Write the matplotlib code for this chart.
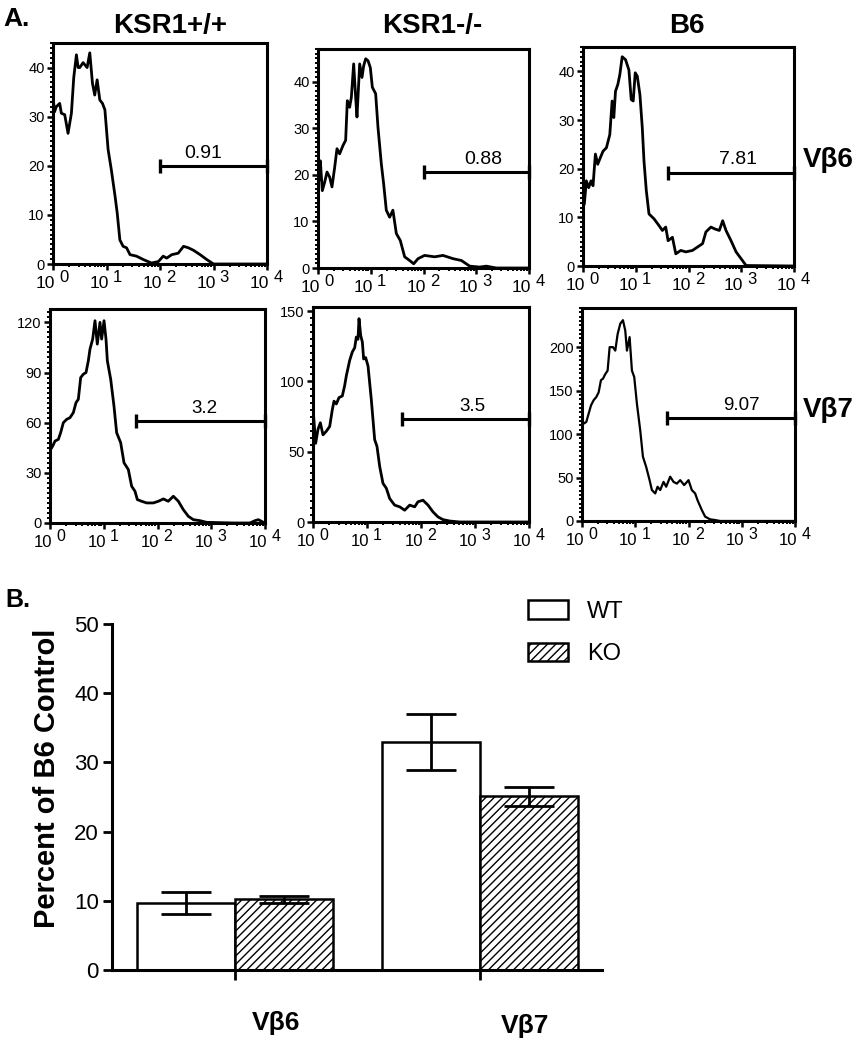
import numpy as np
import matplotlib
matplotlib.use('Agg')
import matplotlib.pyplot as plt
import matplotlib.ticker as ticker
from matplotlib import font_manager

plt.rcParams['font.family'] = ['Liberation Sans', 'DejaVu Sans']
plt.rcParams['hatch.linewidth'] = 1.0

names = set(f.name for f in font_manager.fontManager.ttflist)
narrow = 'Liberation Sans Narrow' if 'Liberation Sans Narrow' in names else 'Liberation Sans'

# ---------------- histogram data (x in decades, y = counts) ----------------
wt6_x = [0.0, 0.01, 0.03, 0.06, 0.125, 0.156, 0.219, 0.281, 0.344, 0.388, 0.4375, 0.47, 0.5, 0.5625, 0.6375,
         0.6875, 0.7375, 0.78, 0.825, 0.875, 0.925, 0.97, 1.03, 1.09, 1.16, 1.2, 1.25, 1.31, 1.375, 1.44,
         1.56, 1.69, 1.84, 1.97, 2.06, 2.125, 2.22, 2.34, 2.44, 2.53, 2.625, 2.75, 2.875, 3.0, 4.0]
wt6_y = [43, 33, 31, 32, 32.7, 30.7, 30.4, 26.6, 30.7, 38, 42.6, 40, 40, 41, 40,
         43, 36.8, 34.4, 37.5, 33.4, 32.7, 31.4, 23.3, 19.2, 13.8, 10.4, 4.9, 3.6, 3.3, 1.9,
         1.6, 0.9, 0.2, 0.5, 1.6, 1.2, 1.9, 2.2, 3.6, 3.3, 2.8, 1.9, 0.9, 0.0, 0.0]

ko6_x = [0, 0.019, 0.044, 0.082, 0.126, 0.171, 0.221, 0.265, 0.316, 0.36, 0.41, 0.474, 0.524, 0.556, 0.6,
         0.632, 0.676, 0.714, 0.739, 0.79, 0.834, 0.866, 0.904, 0.948, 0.992, 1.03, 1.093, 1.137, 1.2, 1.245,
         1.295, 1.358, 1.42, 1.485, 1.56, 1.643, 1.738, 1.814, 1.896, 2.02, 2.21, 2.37, 2.56, 2.72, 2.875,
         3.065, 3.19, 3.38, 4.0]
ko6_y = [23, 18.8, 23, 16.6, 18.4, 20.6, 19.5, 17.4, 21.6, 25.6, 24.5, 26.3, 27.4, 35.9, 34.5,
         36.6, 43.8, 36.6, 32.4, 43.8, 40.9, 43.4, 44.9, 44.5, 43, 38.8, 37.4, 30.2, 22.4, 18,
         12.4, 10.9, 12.4, 7.4, 5.9, 2.4, 1.6, 0.9, 2.0, 2.7, 2.4, 2.7, 2.0, 1.6, 0.4,
         0.2, 0.4, 0.0, 0.0]

b6_6_x = [0, 0.025, 0.063, 0.108, 0.152, 0.19, 0.235, 0.279, 0.33, 0.381, 0.444, 0.508, 0.552, 0.584, 0.616,
          0.66, 0.698, 0.743, 0.806, 0.87, 0.914, 0.952, 0.99, 1.029, 1.079, 1.124, 1.156, 1.2, 1.251, 1.346,
          1.441, 1.505, 1.568, 1.613, 1.695, 1.759, 1.854, 1.949, 2.076, 2.171, 2.267, 2.33, 2.425, 2.502,
          2.584, 2.648, 2.711, 2.806, 2.902, 2.997, 3.092, 4.0]
b6_6_y = [17.5, 12.7, 17.5, 16.1, 17.5, 16.5, 23, 20.9, 22.3, 23.6, 24.3, 27, 33.9, 30.5, 35.9,
          37.3, 39.3, 43, 42.4, 40.3, 34.2, 33.9, 39.7, 39, 35.2, 28.4, 21.6, 15.5, 10.7, 9.7,
          8.3, 7.3, 8, 5.2, 5.9, 2.5, 3.2, 2.9, 3.2, 3.9, 4.6, 7, 8, 7.6,
          7.3, 9.3, 7.3, 5.2, 2.9, 1.5, 0.1, 0.0]

wt7_x = [0, 0.012, 0.05, 0.093, 0.155, 0.198, 0.248, 0.31, 0.372, 0.434, 0.484, 0.527, 0.571, 0.62, 0.67,
         0.713, 0.744, 0.794, 0.837, 0.88, 0.93, 0.961, 1.005, 1.042, 1.067, 1.129, 1.19, 1.24, 1.315, 1.377,
         1.457, 1.519, 1.581, 1.625, 1.705, 1.798, 1.922, 2.016, 2.109, 2.2, 2.295, 2.388, 2.48, 2.574, 2.667,
         2.79, 2.915, 3.41, 3.72, 3.814, 3.876, 3.97, 4.0]
wt7_y = [44, 44, 46, 49, 50, 54, 60, 62, 63, 66, 72, 74, 87, 89, 90,
         97, 104, 110, 121, 107, 120, 110, 121, 110, 97, 86, 70, 54, 48, 36,
         32, 22, 19, 14, 13, 12, 12, 13, 14.4, 13, 16, 13, 8, 4, 2,
         1.4, 0.4, 0, 0, 1.4, 2, 0.4, 0]

ko7_x = [0, 0.012, 0.049, 0.093, 0.136, 0.185, 0.247, 0.309, 0.358, 0.389, 0.432, 0.481, 0.543, 0.586, 0.617,
         0.679, 0.728, 0.772, 0.802, 0.833, 0.852, 0.883, 0.914, 0.938, 0.975, 1.019, 1.08, 1.142, 1.185, 1.235,
         1.296, 1.358, 1.42, 1.512, 1.605, 1.698, 1.79, 1.883, 1.944, 2.037, 2.13, 2.222, 2.315, 2.407, 2.531,
         2.716, 4.0]
ko7_y = [60, 75, 56, 66, 70.6, 62, 64.6, 68, 80, 86, 84, 88.5, 89.7, 97, 104,
         115, 121, 124, 131.6, 130, 144.7, 132.8, 128, 116, 117, 111, 87, 58.6, 53.8, 39.5,
         27.5, 24, 16.7, 12, 10.8, 8.4, 12, 10.8, 14.4, 15.5, 12, 7.2, 3.6, 1.7, 0.7,
         0, 0]

b6_7_x = [0, 0.031, 0.081, 0.125, 0.169, 0.219, 0.269, 0.3125, 0.356, 0.394, 0.4375, 0.481, 0.519, 0.581, 0.625,
          0.669, 0.719, 0.769, 0.8125, 0.844, 0.894, 0.9375, 0.981, 1.031, 1.094, 1.144, 1.206, 1.269, 1.3125, 1.375,
          1.419, 1.469, 1.531, 1.581, 1.656, 1.719, 1.781, 1.844, 1.919, 2.0, 2.0625, 2.125, 2.169, 2.25, 2.3125,
          2.406, 2.5, 2.594, 4.0]
b6_7_y = [116, 112, 114, 123.5, 133, 139, 142.6, 148, 162, 163.7, 169, 173, 200, 200, 196,
          215, 227, 231, 219, 196, 211.5, 173, 165.6, 135, 104, 74, 62, 47, 35.6, 31.7,
          39.4, 35.6, 45, 39.4, 51, 45, 43, 47, 41.3, 47, 35.6, 31.7, 24, 12.6, 5,
          1.9, 1.1, 0, 0]

col_titles = ['KSR1+/+', 'KSR1-/-', 'B6']
row_labels = ['V\u03b26', 'V\u03b27']

# gates: start decade, level, label decade, label text
gate_start = [2.0, 2.0, 1.61, 1.6, 1.64, 1.59]
gate_level = [20, 20.6, 19.2, 61, 73, 118]
gate_mid = [2.81, 3.13, 2.93, 2.88, 2.96, 3.0]
gate_text = ['0.91', '0.88', '7.81', '3.2', '3.5', '9.07']
y_max = [45, 47, 45, 128, 153, 245]
y_step = [10, 10, 10, 30, 50, 50]
decades = [0, 1, 2, 3, 4]

# ---------------- bar data ----------------
groups = ['V\u03b26', 'V\u03b27']
wt_mean = [9.7, 33.0]
wt_err = [1.55, 4.05]
ko_mean = [10.2, 25.1]
ko_err = [0.5, 1.4]

W, H = 864, 1050
fig = plt.figure(figsize=(W / 100, H / 100), dpi=100)


def px_axes(l, t, r, b):
    return fig.add_axes([l / W, 1 - b / H, (r - l) / W, (b - t) / H])


boxes = [(53, 43, 267, 264), (318, 49, 529, 268), (583, 47, 794, 266),
         (50, 309, 265, 523), (313, 307, 529, 522), (582, 308, 795, 521)]
curves = [(wt6_x, wt6_y), (ko6_x, ko6_y), (b6_6_x, b6_6_y),
          (wt7_x, wt7_y), (ko7_x, ko7_y), (b6_7_x, b6_7_y)]

for i, (box, (cx, cy)) in enumerate(zip(boxes, curves)):
    ax = px_axes(*box)
    lw = 2.0 if i < 5 else 1.6
    ax.plot(10 ** np.array(cx), cy, color='black', linewidth=lw)
    ax.set_xscale('log')
    ax.set_xlim(1, 1e4)
    ax.set_ylim(0, y_max[i])
    ax.set_xticks([10.0 ** k for k in decades])
    ax.set_xticklabels([])
    ax.xaxis.set_minor_locator(ticker.LogLocator(base=10, subs=np.arange(2, 10)))
    ax.xaxis.set_minor_formatter(ticker.NullFormatter())
    ax.yaxis.set_major_locator(ticker.MultipleLocator(y_step[i]))
    ax.yaxis.set_minor_locator(ticker.AutoMinorLocator(10))
    ax.tick_params(axis='y', labelsize=10.5)
    ax.tick_params(which='major', direction='out', length=4, width=1.8, pad=2)
    ax.tick_params(which='minor', direction='out', length=2.2, width=1.4)
    for s in ax.spines.values():
        s.set_linewidth(2.2)

    # "10" with raised exponent, like the original cytometry software
    fs = 12.5 if i < 3 else 12
    for k in decades:
        ax.annotate('10', (10.0 ** k, 0), xycoords=('data', 'axes fraction'), xytext=(1.5, -8.5),
                    textcoords='offset points', ha='right', va='top', fontsize=fs, annotation_clip=False)
        ax.annotate(str(k), (10.0 ** k, 0), xycoords=('data', 'axes fraction'), xytext=(4.5, -4),
                    textcoords='offset points', ha='left', va='top', fontsize=fs - 0.5, annotation_clip=False)

    # gate bar
    gx = [10 ** gate_start[i], 1e4]
    ax.plot(gx, [gate_level[i]] * 2, color='black', linewidth=2.2, marker='|',
            markersize=10, markeredgewidth=2.4, clip_on=False)
    ax.annotate(gate_text[i], (10 ** gate_mid[i], gate_level[i]), xytext=(0, 3),
                textcoords='offset points', ha='center', va='bottom', fontsize=14 if i < 3 else 13.5)

# column titles and row labels
for x, t in zip([170, 432, 687], col_titles):
    fig.text(x / W, 1 - 26 / H, t, ha='center', va='center', fontsize=20, fontweight='bold')
fig.text(3 / W, 1 - 19 / H, 'A.', ha='left', va='center', fontsize=19, fontweight='bold')
fig.text(803 / W, 1 - 160 / H, row_labels[0], ha='left', va='center', fontsize=20, fontweight='bold')
fig.text(803 / W, 1 - 410 / H, row_labels[1], ha='left', va='center', fontsize=20, fontweight='bold')

# ---------------- bar chart ----------------
axb = px_axes(112, 624, 602, 970)
pos = np.arange(len(groups))
bw = 0.4
b1 = axb.bar(pos - bw / 2, wt_mean, bw, color='white', edgecolor='black', linewidth=1.8, label='WT', zorder=2)
b2 = axb.bar(pos + bw / 2, ko_mean, bw, color='white', edgecolor='black', linewidth=1.8, hatch='////',
             label='KO', zorder=2)
axb.errorbar(pos - bw / 2, wt_mean, yerr=wt_err, fmt='none', ecolor='black', elinewidth=2,
             capsize=18, capthick=2, zorder=3)
axb.errorbar(pos + bw / 2, ko_mean, yerr=ko_err, fmt='none', ecolor='black', elinewidth=2,
             capsize=18, capthick=2, zorder=3)
axb.set_xlim(-0.5, 1.5)
axb.set_ylim(0, 50)
axb.set_xticks(pos)
axb.set_xticklabels([])
axb.yaxis.set_major_locator(ticker.MultipleLocator(10))
axb.tick_params(axis='y', labelsize=16, direction='out', length=6.5, width=2, pad=3)
axb.tick_params(axis='x', direction='out', length=7, width=2)
for s in ['top', 'right']:
    axb.spines[s].set_visible(False)
for s in ['left', 'bottom']:
    axb.spines[s].set_linewidth(2.2)
for lab, x, y in zip(groups, [0.171, 1.184], [-0.153, -0.162]):
    axb.text(x, y, lab, transform=axb.get_xaxis_transform(), ha='center', va='center',
             fontsize=19, fontweight='bold', family=[narrow, 'DejaVu Sans'])
fig.text(47 / W, 1 - 778 / H, 'Percent of B6 Control', rotation=90, ha='center', va='center',
         fontsize=21, fontweight='bold')
fig.text(5 / W, 1 - 600 / H, 'B.', ha='left', va='center', fontsize=18, fontweight='bold')

leg = axb.legend(handles=[b1, b2], loc='upper left', bbox_to_anchor=(528 / W, 1 - 600 / H),
                 bbox_transform=fig.transFigure, frameon=False, borderpad=0, borderaxespad=0,
                 handlelength=1.7, handleheight=0.85, handletextpad=0.8, labelspacing=0.85,
                 prop={'family': narrow, 'size': 17})

fig.savefig('out.png', dpi=100)
